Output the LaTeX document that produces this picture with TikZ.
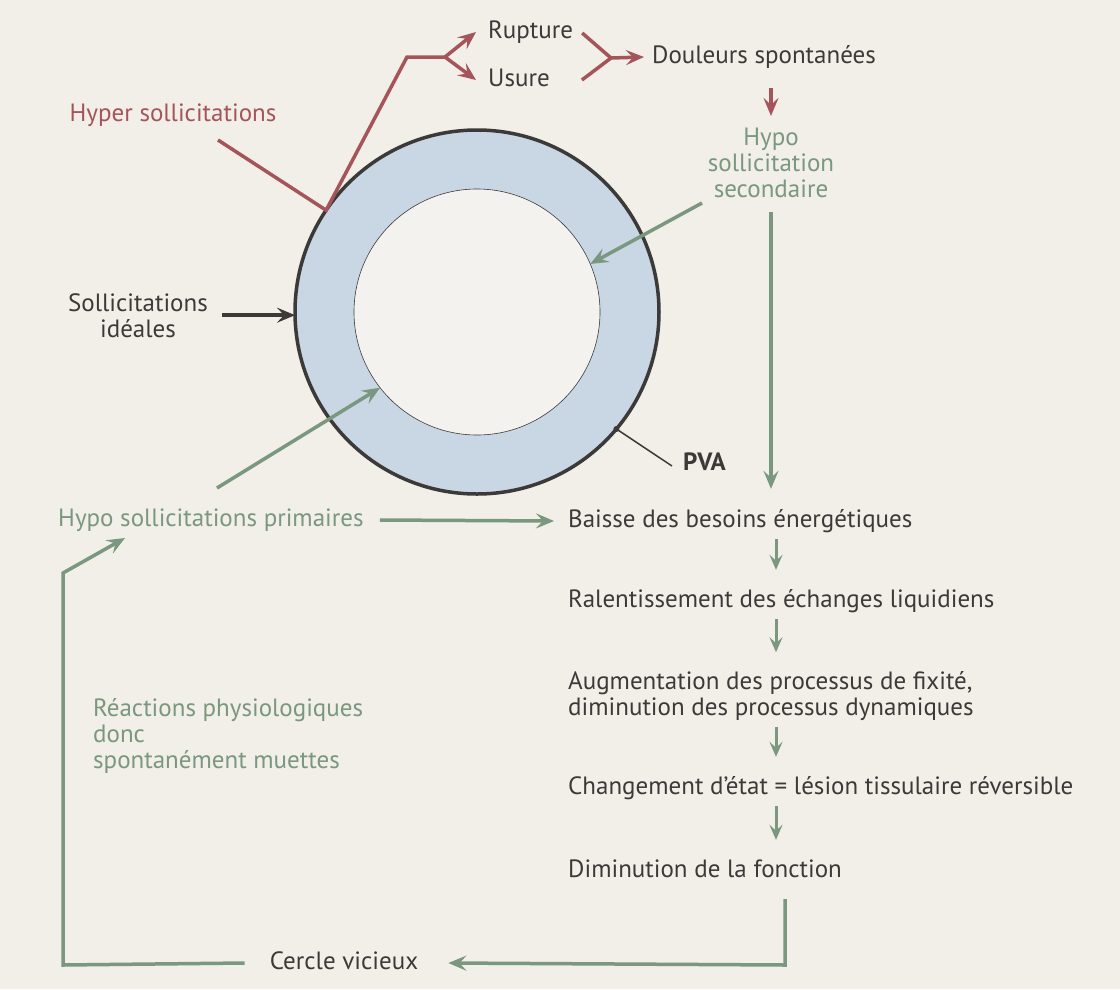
\documentclass[tikz,border=0pt]{standalone}
\usepackage{fontspec}
\setmainfont{PT Sans}
\usetikzlibrary{arrows.meta}
\definecolor{paper}{HTML}{F1EFE7}
\definecolor{ink}{HTML}{3B3A39}
\definecolor{sage}{HTML}{7A977F}
\definecolor{brick}{HTML}{A5545A}
\definecolor{ring}{HTML}{C9D6E3}
\definecolor{core}{HTML}{F3F2EE}
\begin{document}
\begin{tikzpicture}[x=1pt,y=-1pt,
  txt/.style={font=\fontsize{25}{26}\selectfont,text=ink,inner sep=0pt,align=center},
  one/.style={text height=18pt,text depth=6pt},
  txtG/.style={txt,text=sage},
  txtR/.style={txt,text=brick},
  chain/.style={txt,anchor=west,align=left},
  tipB/.style={-{Stealth[length=18pt,width=15pt,inset=7pt]}},
  lineG/.style={draw=sage,line width=3.5pt},
  lineR/.style={draw=brick,line width=3.5pt},
  arrG/.style={lineG,tipB},
  arrR/.style={lineR,tipB},
  arrS/.style={draw=sage,line width=3pt,-{Stealth[length=15pt,width=13pt,inset=6pt]},shorten <=6pt,shorten >=19pt},
  arrK/.style={draw=ink,line width=4pt,tipB}]
\def\cx{477}
\def\cy{312}

% paper
\fill[paper] (0,0) rectangle (1120,989);

% PVA ring
\node[circle,minimum size=364pt,inner sep=0pt,outer sep=0pt,fill=ring,draw=ink,line width=3.5pt] (outer) at (\cx,\cy) {};
\node[circle,minimum size=246pt,inner sep=0pt,outer sep=0pt,fill=core,draw=ink,line width=0.6pt] (inner) at (\cx,\cy) {};

% labels
\node[txtR,one] (hyper) at (173,115) {Hyper sollicitations};
\node[txt,one,anchor=west] (rup) at (488,32) {Rupture};
\node[txt,one,anchor=west] (usu) at (488,80) {Usure};
\node[txt,one,anchor=west] (dou) at (652,57) {Douleurs spontanées};
\node[txtG] (hsec) at (771,163) {Hypo\\sollicitation\\secondaire};
\node[txt] (ideal) at (138,316) {Sollicitations\\idéales};
\node[txt,one,anchor=west,font=\fontsize{25}{26}\selectfont\bfseries] (pva) at (683,464) {PVA};
\node[txtG,one,anchor=west] (hprim) at (58,520) {Hypo sollicitations primaires};
\node[chain,one] (baisse) at (568,521) {Baisse des besoins énergétiques};
\node[chain,one] (ralent) at (568,601) {Ralentissement des échanges liquidiens};
\node[chain] (augm) at (568,696) {Augmentation des processus de fixité,\\diminution des processus dynamiques};
\node[chain,one] (chang) at (568,788) {Changement d’état = lésion tissulaire réversible};
\node[chain,one] (dimin) at (568,871) {Diminution de la fonction};
\node[txtG,anchor=west,align=left] (reac) at (93,736) {Réactions physiologiques\\donc\\spontanément muettes};
\node[txt,one] (cercle) at (344,963) {Cercle vicieux};

% hyper branch
\coordinate (hyS) at (218,140);
\coordinate (hyK) at (407,57);
\coordinate (fork) at (445,57);
\coordinate (join) at (611,58);
\draw[lineR] (hyS) -- (outer.146) -- (hyK) -- (fork);
\draw[arrR] (fork) -- ([xshift=-12pt]rup.west);
\draw[arrR] (fork) -- ([xshift=-12pt]usu.west);
\draw[lineR] ([shift={(9pt,-1pt)}]rup.east) -- (join) -- ([xshift=32pt]usu.east);
\draw[arrR] (join) -- ([xshift=-8pt]dou.west);
\draw[arrR,shorten <=19pt,shorten >=12pt] (hsec.north |- dou.south) -- (hsec.north);

% secondary
\coordinate (secS) at (702,203);
\draw[arrG] (secS) -- (inner.23);
\draw[arrG,shorten <=14pt,shorten >=20pt] (hsec.south) -- (hsec.south |- baisse.north);

% ideal and PVA
\draw[arrK] ([xshift=14pt]ideal.east |- outer.181) -- (outer.181);
\fill[ink] (outer.-40) circle (3pt);
\draw[ink,line width=1.5pt] (outer.-40) -- ([shift={(-11pt,-2pt)}]pva.west);

% primary
\coordinate (primS) at (217,488);
\draw[arrG] (primS) -- (inner.218);
\draw[arrG] ([xshift=16pt]hprim.east) -- ([xshift=-14pt]baisse.west);

% chain
\coordinate (col) at (776,0);
\foreach \a/\b in {baisse/ralent,ralent/augm,augm/chang,chang/dimin}
  \draw[arrS] (\a.south -| col) -- (\b.north -| col);

% vicious circle
\coordinate (loopR) at (785,965);
\coordinate (loopL) at (63,965);
\coordinate (loopU) at (63,573);
\coordinate (primT) at (125,538);
\draw[arrG] ([yshift=-16pt]dimin.south -| loopR) -- (loopR) -- ([xshift=30pt]cercle.east);
\draw[arrG] ([xshift=-25pt]cercle.west) -- (loopL) -- (loopU) -- (primT);
\end{tikzpicture}
\end{document}
